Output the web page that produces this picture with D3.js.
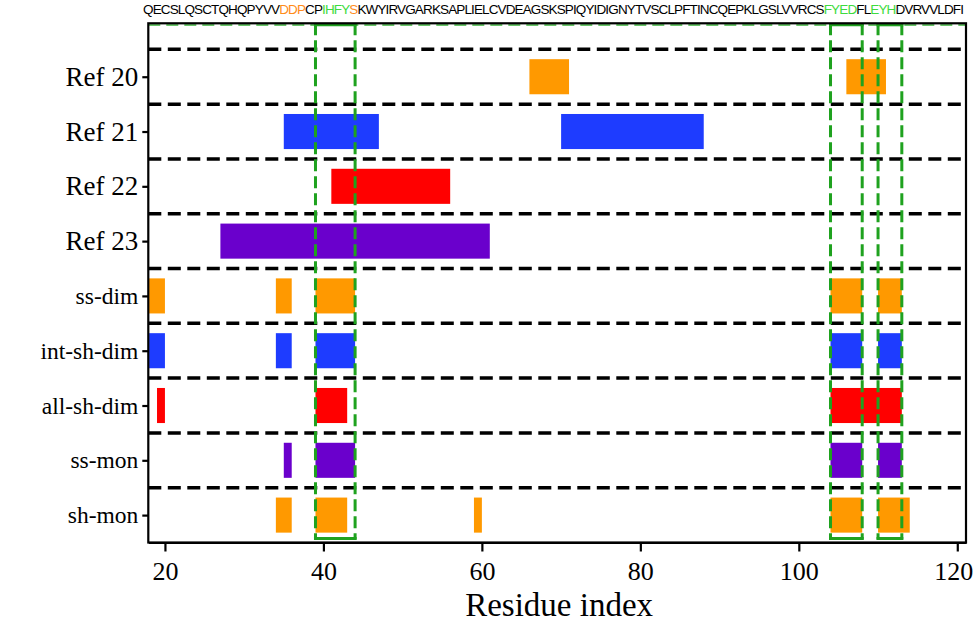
<!DOCTYPE html>
<html>
<head>
<meta charset="utf-8">
<script src="https://cdn.jsdelivr.net/npm/d3@7"></script>
<style>
  html, body { margin: 0; padding: 0; background: #fff; }
  svg { display: block; }
</style>
</head>
<body>
<svg id="chart" width="975" height="625"></svg>
<script>
// ---------- data ----------
const rows = ["Ref 20", "Ref 21", "Ref 22", "Ref 23", "ss-dim", "int-sh-dim", "all-sh-dim", "ss-mon", "sh-mon"];
const rowColors = ["#FF9900", "#1E3CFF", "#FF0000", "#6A00CC", "#FF9900", "#1E3CFF", "#FF0000", "#6A00CC", "#FF9900"];
const segments = [
  [[66, 71], [106, 111]],
  [[35, 47], [70, 88]],
  [[41, 56]],
  [[27, 61]],
  [[18, 20], [34, 36], [39, 44], [104, 108], [110, 113]],
  [[18, 20], [34, 36], [39, 44], [104, 108], [110, 113]],
  [[19, 20], [39, 43], [104, 113]],
  [[35, 36], [39, 44], [104, 108], [110, 113]],
  [[34, 36], [39, 43], [59, 60], [104, 108], [110, 114]]
];
const highlights = [[39, 44], [104, 108], [110, 113]];
const xTicks = [20, 40, 60, 80, 100, 120];
const sequence = "QECSLQSCTQHQPYVVDDPCPIHFYSKWYIRVGARKSAPLIELCVDEAGSKSPIQYIDIGNYTVSCLPFTINCQEPKLGSLVVRCSFYEDFLEYHDVRVVLDFI";
const seqStart = 18;
// residue ranges coloured in the sequence (inclusive)
const seqOrange = [[34, 36], [43, 43]];
const seqGreen = [[39, 42], [104, 107], [110, 112]];
const xTitle = "Residue index";

// ---------- layout ----------
const svg = d3.select("#chart");
const L = 148.3, R = 966, T = 23.3, B = 542.5;
const x = d3.scaleLinear().domain([17.9, 121.1]).range([L, R]);
const y = d3.scaleLinear().domain([0.025, 9.5]).range([T, B]);
const barHalf = 0.32;
const serif = "'Liberation Serif', 'Times New Roman', serif";

// bars
const g = svg.append("g");
rows.forEach((r, i) => {
  g.selectAll(null).data(segments[i]).enter().append("rect")
    .attr("x", d => x(d[0]))
    .attr("width", d => x(d[1]) - x(d[0]))
    .attr("y", y(i + 1 - barHalf))
    .attr("height", y(i + 1 + barHalf) - y(i + 1 - barHalf))
    .attr("fill", rowColors[i]);
});

// black dashed separators
const seps = d3.range(0, rows.length).map(i => i + 0.5);
svg.append("g").selectAll("line").data(seps).enter().append("line")
  .attr("x1", L).attr("x2", R)
  .attr("y1", d => y(d)).attr("y2", d => y(d))
  .attr("stroke", "#000").attr("stroke-width", 3.5)
  .attr("stroke-dasharray", "13,6.5");

// faint green dashed line along top
svg.append("line").attr("x1", L).attr("x2", R).attr("y1", T + 1.8).attr("y2", T + 1.8)
  .attr("stroke", "#3ab53a").attr("stroke-width", 1.5).attr("stroke-dasharray", "12,6");

// green highlight boxes
const hg = svg.append("g");
highlights.forEach(h => {
  [h[0], h[1]].forEach(v => {
    hg.append("line").attr("x1", x(v)).attr("x2", x(v)).attr("y1", T).attr("y2", B - 3)
      .attr("stroke", "#1FA21F").attr("stroke-width", 3).attr("stroke-dasharray", "12,5");
  });
  hg.append("line").attr("x1", x(h[0]) - 1.5).attr("x2", x(h[1]) + 1.5).attr("y1", T + 1.5).attr("y2", T + 1.5)
    .attr("stroke", "#1FA21F").attr("stroke-width", 3);
  hg.append("line").attr("x1", x(h[0]) - 1.5).attr("x2", x(h[1]) + 1.5).attr("y1", B - 4).attr("y2", B - 4)
    .attr("stroke", "#1FA21F").attr("stroke-width", 3);
});

// axes
const xAxis = svg.append("g").attr("transform", `translate(0,${B})`)
  .call(d3.axisBottom(x).tickValues(xTicks).tickSize(9).tickSizeOuter(0).tickPadding(10));
xAxis.select(".domain").attr("stroke-width", 2.2);
xAxis.selectAll(".tick line").attr("stroke-width", 2.2);
xAxis.selectAll(".tick text").attr("font-family", serif)
  .attr("font-size", 26).attr("fill", "#000")
  .attr("dx", d => d === xTicks[xTicks.length - 1] ? -4 : 0);

const yAxis = svg.append("g").attr("transform", `translate(${L},0)`)
  .call(d3.axisLeft(y).tickValues(d3.range(1, rows.length + 1)).tickFormat(i => rows[i - 1])
    .tickSize(6).tickSizeOuter(0).tickPadding(4));
yAxis.select(".domain").remove();
yAxis.selectAll(".tick line").attr("stroke-width", 2.2);
yAxis.selectAll(".tick text").attr("font-family", serif)
  .attr("font-size", i => rows[i - 1].startsWith("Ref") ? 27 : 23.5).attr("fill", "#000");

// frame
svg.append("rect").attr("x", L).attr("y", T).attr("width", R - L).attr("height", B - T)
  .attr("fill", "none").attr("stroke", "#000").attr("stroke-width", 2.2);

// axis title
svg.append("text").attr("x", (L + R) / 2 + 2).attr("y", 616)
  .attr("text-anchor", "middle")
  .attr("font-family", serif)
  .attr("font-size", 33).attr("fill", "#000").text(xTitle);

// sequence text
function inRanges(res, ranges) { return ranges.some(r => res >= r[0] && res <= r[1]); }
const chars = sequence.split("").map((c, i) => {
  const res = seqStart + i;
  const col = inRanges(res, seqGreen) ? "#3EDB3E" : inRanges(res, seqOrange) ? "#FF8C1A" : "#000";
  return { c, col };
});
const runs = [];
chars.forEach(ch => {
  if (runs.length && runs[runs.length - 1].col === ch.col) runs[runs.length - 1].t += ch.c;
  else runs.push({ t: ch.c, col: ch.col });
});
const seqX0 = x(seqStart) - 6, seqX1 = x(seqStart + sequence.length) - 10;
const st = svg.append("text").attr("x", seqX0).attr("y", 14)
  .attr("font-family", "'Liberation Sans', Arial, sans-serif").attr("font-size", 13.5);
st.selectAll("tspan").data(runs).enter().append("tspan")
  .attr("fill", d => d.col).text(d => d.t);
const natural = st.node().getComputedTextLength();
const ls = (seqX1 - seqX0 - natural) / sequence.length;
st.attr("letter-spacing", ls.toFixed(3));
</script>
</body>
</html>
